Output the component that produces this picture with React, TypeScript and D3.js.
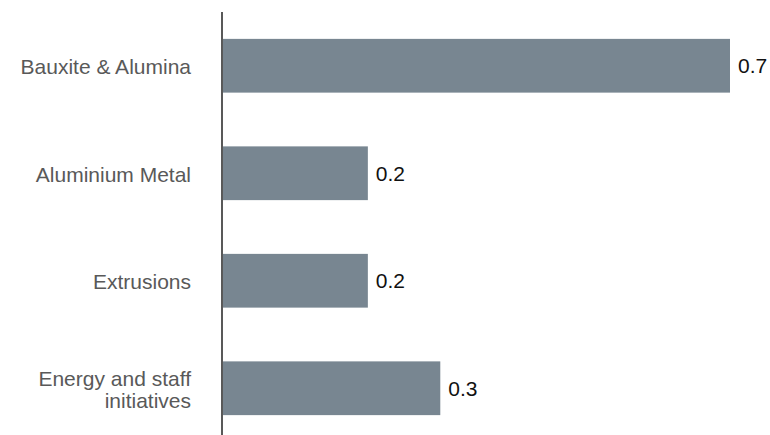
import React from "react";
import * as d3 from "d3";

const categories: string[][] = [
  ["Bauxite & Alumina"],
  ["Aluminium Metal"],
  ["Extrusions"],
  ["Energy and staff", "initiatives"],
];
const values: number[] = [0.7, 0.2, 0.2, 0.3];
const valueLabels: string[] = ["0.7", "0.2", "0.2", "0.3"];

const W = 770;
const H = 435;

export default function App() {
  const keys = categories.map((c) => c.join(" "));
  const x = d3.scaleLinear().domain([0, 0.7]).range([223, 730]);
  const y = d3
    .scaleBand<string>()
    .domain(keys)
    .range([12, 442])
    .paddingInner(0.5)
    .paddingOuter(0.25);
  const font = "Arial, 'Liberation Sans', Helvetica, sans-serif";
  const fs = 21;
  const lineH = 22;
  return (
    <svg
      width={W}
      height={H}
      style={{ position: "absolute", left: 0, top: 0, background: "#fff" }}
    >
      {values.map((v, i) => {
        const k = keys[i];
        const yc = (y(k) as number) + y.bandwidth() / 2;
        const lines = categories[i];
        return (
          <g key={k}>
            <rect
              x={x(0)}
              y={y(k)}
              width={x(v) - x(0)}
              height={y.bandwidth()}
              fill="#788691"
            />
            <text
              x={x(v) + 8}
              y={yc + 7.5}
              fontFamily={font}
              fontSize={fs}
              fill="#111"
            >
              {valueLabels[i]}
            </text>
            {lines.map((ln, j) => (
              <text
                key={j}
                x={191}
                y={yc + 8.5 + (j - (lines.length - 1) / 2) * lineH}
                textAnchor="end"
                fontFamily={font}
                fontSize={fs}
                fill="#595959"
              >
                {ln}
              </text>
            ))}
          </g>
        );
      })}
      <line x1={222} x2={222} y1={12} y2={H} stroke="#595959" strokeWidth={2} />
    </svg>
  );
}
